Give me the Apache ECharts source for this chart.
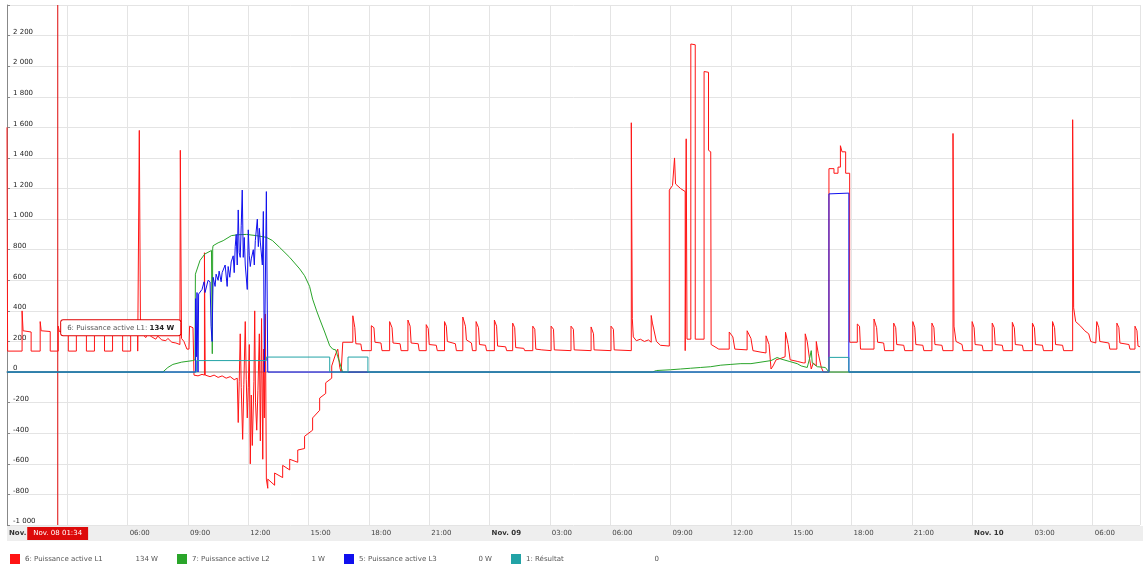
<!DOCTYPE html>
<html><head><meta charset="utf-8">
<script src="https://cdn.jsdelivr.net/npm/echarts/dist/echarts.min.js"></script>
<style>html,body{margin:0;padding:0;background:#fff}#c{width:1143px;height:567px}</style>
</head><body><div id="c"></div>
<script>
// ---- labels ----
const seriesNames = ['6: Puissance active L1', '7: Puissance active L2', '5: Puissance active L3', '1: Résultat'];
const legendValues = ['134 W', '1 W', '0 W', '0'];
const seriesColors = ['#ff1414', '#2aa52a', '#1010ee', '#22a3a6'];
const dayLabels = ['Nov.', 'Nov. 09', 'Nov. 10'];
const hiddenTickHours = [3];
const cursorHour = 2.52;
const cursorLabel = 'Nov. 08 01:34';
const cursorValue = 134;
const tooltipAnchor = 290;
const yMin = -1000, yMax = 2400;

// ---- data: [hours since Nov. 08 00:00, W] ----
const l1Data = [
[0,1600],[0.03,137],
[0.75,137],[0.75,400],[0.8,270],[1.2,262],[1.2,137],
[1.65,137],[1.65,330],[1.7,270],[2.15,265],[2.15,137],
[2.55,137],[2.55,300],[2.6,265],[3.05,262],[3.05,137],
[3.45,137],[3.45,270],[3.95,262],[3.95,137],
[4.35,137],[4.35,272],[4.85,265],[4.85,137],
[5.25,137],[5.25,270],[5.75,262],[5.75,137],
[6.15,137],[6.15,270],[6.5,262],[6.5,137],
[6.58,137],[6.58,1580],[6.64,1580],[6.64,260],[6.8,240],[6.9,225],[7.0,250],[7.2,230],[7.4,215],[7.5,235],[7.7,210],[7.9,205],[8.0,220],[8.2,195],[8.4,190],[8.6,180],[8.62,1450],[8.66,1450],[8.68,220],[8.8,200],[8.95,150],[9.05,150],[9.08,300],[9.25,290],[9.3,-20],
[9.5,-25],[9.7,-15],[9.82,-20],[9.82,780],[9.86,780],[9.86,-20],[10.1,-30],[10.3,-20],[10.5,-35],[10.7,-25],[10.9,-40],[11.1,-30],[11.3,-50],[11.45,-40],
[11.5,-330],[11.55,-60],[11.6,250],[11.65,-100],[11.72,-440],[11.78,-80],[11.85,330],[11.9,-50],[11.95,-300],[12.0,-100],[12.05,180],[12.1,-600],[12.15,-150],[12.2,-480],[12.28,-60],[12.32,400],[12.36,-200],[12.42,-380],[12.48,-120],[12.55,250],[12.6,-450],[12.66,350],[12.72,-570],[12.76,150],[12.8,-300],[12.85,380],[12.9,-700],[12.97,-760],
[12.97,-700],[13.31,-740],[13.31,-660],[13.71,-690],[13.71,-610],[14.06,-640],[14.06,-570],[14.46,-590],[14.46,-510],[14.8,-500],[14.8,-420],[15.2,-380],[15.2,-300],[15.55,-250],[15.55,-170],[15.85,-140],[15.85,-70],[16.15,-40],[16.15,40],[16.35,120],[16.45,150],[16.55,30],[16.62,0],[16.7,195],
[17.2,195],[17.2,368],[17.3,290],[17.35,185],[17.6,183],[17.65,140],
[18.12,140],[18.12,303],[18.25,290],[18.3,195],[18.6,190],[18.65,140],
[19.03,140],[19.03,330],[19.15,290],[19.2,190],[19.55,185],[19.6,140],
[19.94,140],[19.94,340],[20.05,300],[20.1,190],[20.45,185],[20.5,140],
[20.85,140],[20.85,310],[20.95,285],[21.0,180],[21.35,175],[21.4,140],
[21.76,140],[21.76,330],[21.85,300],[21.9,200],[22.3,185],[22.35,140],
[22.67,140],[22.67,360],[22.8,300],[22.85,210],[23.1,190],[23.15,140],
[23.33,140],[23.33,330],[23.45,290],[23.5,180],[23.8,175],[23.85,140],
[24.24,140],[24.24,340],[24.35,300],[24.4,170],[24.8,165],[24.85,140],
[25.15,140],[25.15,320],[25.25,290],[25.3,160],[25.7,155],[25.75,140],
[26.15,140],[26.15,300],[26.25,280],[26.3,150],[26.6,145],
[27.06,140],[27.06,300],[27.18,280],[27.22,145],
[28.05,140],[28.05,300],[28.17,280],[28.21,145],
[29.05,140],[29.05,295],[29.17,250],[29.2,145],
[30.04,140],[30.04,300],[30.16,280],[30.2,145],
[31.05,140],[31.05,1630],[31.1,1630],[31.1,350],[31.15,230],[31.3,205],[31.5,215],[31.7,200],[31.9,210],[32.04,195],[32.04,370],[32.1,320],[32.3,200],[32.5,175],[32.94,170],[32.94,1190],[33.1,1220],[33.2,1400],[33.25,1230],[33.5,1200],[33.73,1180],[33.73,140],[33.78,140],[33.78,1525],[33.82,1525],[33.82,215],[34.01,215],[34.01,2145],[34.23,2140],[34.23,215],[34.67,215],[34.67,1965],[34.89,1960],[34.89,1450],[35.0,1440],[35.02,180],[35.4,150],
[35.92,150],[35.92,262],[36.1,230],[36.2,150],[36.81,145],[36.81,270],[37.0,220],[37.1,140],[37.5,130],[37.75,125],[37.75,237],[37.9,180],[38.0,20],[38.1,40],[38.25,80],[38.5,90],[38.7,100],[38.72,260],[38.85,180],[38.95,80],[39.3,70],[39.6,60],[39.7,60],[39.7,250],[39.8,200],[39.9,100],[40.0,20],[40.1,60],[40.25,40],[40.25,200],[40.35,120],[40.5,30],[40.6,0],[40.88,0],
[40.88,1330],[41.13,1330],[41.13,1300],[41.33,1300],[41.33,1340],[41.45,1340],[41.45,1480],[41.53,1470],[41.53,1440],[41.71,1440],[41.71,1300],[41.91,1300],[41.91,195],
[42.29,195],[42.29,314],[42.4,300],[42.45,150],
[43.12,150],[43.12,347],[43.25,290],[43.3,195],[43.6,190],[43.65,140],
[44.1,140],[44.1,320],[44.2,290],[44.25,180],[44.6,175],[44.65,140],
[45.05,140],[45.05,330],[45.15,290],[45.2,180],[45.55,175],[45.6,140],
[46.0,140],[46.0,320],[46.1,290],[46.15,180],[46.5,175],[46.55,140],
[47.05,140],[47.05,1560],[47.1,1560],[47.1,300],[47.2,200],[47.5,180],[47.55,140],
[48.0,140],[48.0,330],[48.1,290],[48.15,180],[48.5,175],[48.55,140],
[49.0,140],[49.0,320],[49.1,290],[49.15,180],[49.5,175],[49.55,140],
[50.0,140],[50.0,325],[50.1,290],[50.15,180],[50.5,175],[50.55,140],
[51.0,140],[51.0,320],[51.1,290],[51.15,180],[51.5,175],[51.55,140],
[52.0,140],[52.0,330],[52.1,290],[52.15,180],[52.5,175],[52.55,140],
[53.0,140],[53.0,1650],[53.05,1650],[53.05,420],[53.15,330],[53.4,300],[53.6,270],[53.8,250],[53.9,200],[54.15,190],
[54.2,190],[54.2,330],[54.3,290],[54.35,200],[54.8,190],[54.85,150],
[55.2,150],[55.2,320],[55.3,290],[55.35,190],[55.8,180],[55.85,150],
[56.1,150],[56.1,300],[56.2,270],[56.25,170],[56.35,165]
];

const l2Data = [
[0,0],[7.75,0],[8.0,30],[8.25,50],[8.69,65],[9.24,75],[9.35,80],[9.37,640],[9.6,730],[9.84,772],[10.17,795],[10.2,795],[10.21,120],[10.23,810],[10.25,826],[10.5,845],[10.75,859],[11.16,892],[11.5,898],[11.91,900],[12.4,892],[12.9,881],[13.2,860],[13.56,815],[14.06,750],[14.56,674],[14.8,630],[15.05,560],[15.2,477],[15.4,400],[15.55,347],[15.8,262],[16.05,172],[16.2,150],[16.35,145],[16.45,100],[16.54,65],[16.69,0],
[32.1,0],[32.3,10],[33.0,15],[33.5,20],[34.0,25],[34.5,30],[35.0,35],[35.5,45],[36.0,50],[36.5,55],[37.0,55],[37.5,65],[38.0,75],[38.3,95],[38.5,85],[38.9,70],[39.3,55],[39.5,40],[39.8,30],[39.9,80],[40.0,140],[40.05,60],[40.3,35],[40.7,30],[40.88,0],[56.35,0]
];

const l3Data = [
[0,0],[9.38,0],[9.38,480],[9.42,100],[9.45,520],[9.5,0],[9.53,510],[9.6,500],[9.7,540],[9.8,590],[9.85,520],[10.0,600],[10.1,590],[10.15,300],[10.2,200],[10.25,620],[10.35,560],[10.4,640],[10.5,600],[10.55,660],[10.65,590],[10.7,650],[10.85,700],[10.95,560],[11.0,690],[11.08,620],[11.15,720],[11.25,760],[11.3,650],[11.35,820],[11.4,900],[11.45,700],[11.5,1060],[11.55,780],[11.6,750],[11.65,960],[11.7,1190],[11.75,750],[11.8,880],[11.85,700],[11.95,540],[12.0,930],[12.05,760],[12.1,690],[12.15,740],[12.25,800],[12.3,700],[12.35,860],[12.45,1000],[12.5,820],[12.55,940],[12.6,850],[12.7,700],[12.75,1050],[12.8,0],[12.9,1180],[12.95,1180],[12.97,0],
[40.88,0],[40.88,1165],[41.87,1170],[41.87,0],[56.35,0]
];

const resultData = [
[0,0],[9.42,0],[9.42,75],[12.9,75],[12.9,98],[16.05,98],[16.05,0],[16.96,0],[16.96,98],[17.95,98],[17.95,0],[40.88,0],[40.88,96],[41.87,96],[41.87,0],[56.35,0]
];

// ---- chart ----
const chart = echarts.init(document.getElementById('c'), null, {renderer: 'canvas'});
const fmtNum = v => {
  const s = Math.abs(v).toString();
  const t = s.length > 3 ? s.slice(0, s.length - 3) + ' ' + s.slice(-3) : s;
  return (v < 0 ? '-' : '') + t;
};
const pad = n => (n < 10 ? '0' : '') + n;
const allData = [l1Data, l2Data, l3Data, resultData];
const cursorRed = '#e02020';

const series = allData.map((d, i) => ({
  name: seriesNames[i],
  type: 'line',
  data: d,
  symbol: 'none',
  lineStyle: {color: seriesColors[i], width: 1},
  itemStyle: {color: seriesColors[i]},
  animation: false,
  z: 2 + i
}));

series[0].markPoint = {
  silent: true, animation: false, symbol: 'circle', symbolSize: 1,
  itemStyle: {color: 'rgba(0,0,0,0)'},
  label: {
    show: true, position: 'right', distance: 3,
    formatter: '{a|' + seriesNames[0] + ': }{b|' + cursorValue + ' W}',
    backgroundColor: '#fff', borderColor: '#e00000', borderWidth: 1, borderRadius: 2,
    padding: [4, 6, 4, 6],
    rich: {
      a: {fontSize: 7, color: '#555', fontFamily: 'DejaVu Sans'},
      b: {fontSize: 7, color: '#222', fontWeight: 'bold', fontFamily: 'DejaVu Sans'}
    }
  },
  data: [{coord: [cursorHour, tooltipAnchor]}]
};

// vertical cursor line (not listed in legend)
series.push({
  name: 'cursor',
  type: 'line',
  data: [[cursorHour, yMin], [cursorHour, yMax]],
  symbol: 'none',
  silent: true,
  lineStyle: {color: cursorRed, width: 1.3, opacity: 0.85},
  itemStyle: {color: cursorRed},
  animation: false,
  z: 1
});

chart.setOption({
  backgroundColor: '#fff',
  animation: false,
  grid: {left: 7, right: 2, top: 5, bottom: 42, containLabel: false},
  graphic: [
    {type: 'rect', left: 7, top: 526, shape: {width: 1136, height: 15}, style: {fill: '#eeeeee'}, z: -10, silent: true}
  ],
  legend: {
    left: 5, top: 549, itemWidth: 10, itemHeight: 10, itemGap: 19, icon: 'rect',
    selectedMode: false,
    data: seriesNames,
    formatter: name => '{n|' + name + '}{v|' + legendValues[seriesNames.indexOf(name)] + '}',
    textStyle: {
      fontSize: 7, color: '#555', fontFamily: 'DejaVu Sans',
      rich: {
        n: {width: 103, fontSize: 7, color: '#555', fontFamily: 'DejaVu Sans'},
        v: {width: 30, align: 'right', fontSize: 7, color: '#555', fontFamily: 'DejaVu Sans'}
      }
    }
  },
  xAxis: {
    type: 'value', min: 0, max: 56.35, interval: 3,
    axisLine: {show: true, lineStyle: {color: '#c4c4c4', width: 2}},
    axisTick: {show: false},
    splitLine: {show: true, lineStyle: {color: '#e4e4e4', width: 1}},
    axisPointer: {
      show: true, type: 'line', value: cursorHour, status: 'show', snap: false, triggerTooltip: false,
      lineStyle: {color: cursorRed, width: 0, opacity: 0},
      label: {
        show: true, formatter: () => cursorLabel, margin: 2,
        backgroundColor: '#dd0a0a', color: '#fff', fontSize: 7, fontFamily: 'DejaVu Sans',
        padding: [3, 6, 3, 6], borderRadius: 0, shadowBlur: 0
      }
    },
    axisLabel: {
      align: 'left', margin: 5, fontSize: 7, color: '#444', fontFamily: 'DejaVu Sans',
      padding: [0, 0, 0, 2],
      formatter: v => {
        if (Math.abs(v % 3) > 1e-6) return '';
        if (hiddenTickHours.indexOf(v) >= 0) return '';
        if (v % 24 === 0) return '{b|' + dayLabels[v / 24] + '}';
        return pad(v % 24) + ':00';
      },
      rich: {b: {fontSize: 7, fontWeight: 'bold', color: '#333', fontFamily: 'DejaVu Sans'}}
    }
  },
  yAxis: {
    type: 'value', min: yMin, max: yMax, interval: 200,
    axisLine: {show: true, lineStyle: {color: '#888', width: 1}},
    axisTick: {show: true, inside: true, length: 3, lineStyle: {color: '#888'}},
    splitLine: {show: true, lineStyle: {color: '#e4e4e4', width: 1}},
    axisLabel: {
      inside: true, margin: 6, fontSize: 7, color: '#222', fontFamily: 'DejaVu Sans',
      verticalAlign: 'bottom',
      formatter: v => (v === yMax ? '' : fmtNum(v))
    }
  },
  series: series
});
</script>
</body></html>
